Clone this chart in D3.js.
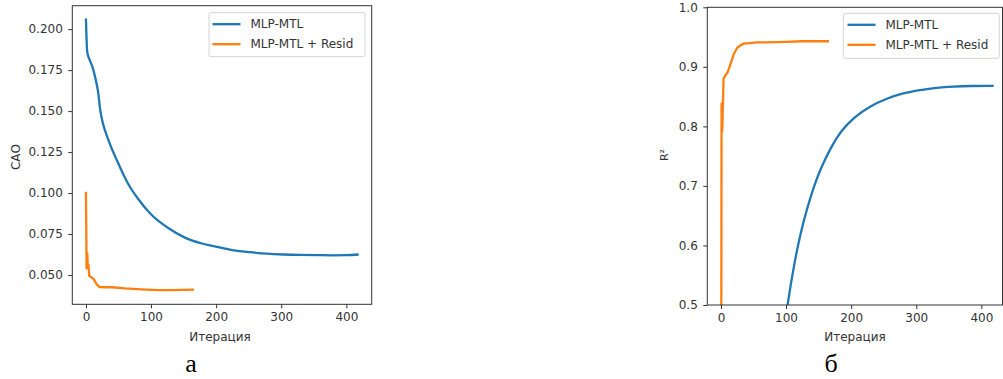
<!DOCTYPE html>
<html><head><meta charset="utf-8">
<script src="https://cdn.jsdelivr.net/npm/d3@7"></script>
<style>body{margin:0;background:#fff}svg{display:block}</style>
</head><body>
<svg id="c" width="1003" height="379"></svg>
<script>
// ---- data ----
const seriesNames = ["MLP-MTL", "MLP-MTL + Resid"];
const xTicks = [0, 100, 200, 300, 400];
const maeTicks = [0.05, 0.075, 0.1, 0.125, 0.15, 0.175, 0.2];
const r2Ticks = [0.5, 0.6, 0.7, 0.8, 0.9, 1.0];

const maeBaseIter = [0, 2, 6, 10, 14, 19, 22, 25, 29, 33, 40, 50, 65, 80, 101, 127, 152, 178, 198, 227, 252, 278, 303, 329, 354, 380, 400, 419];
const maeBaseVal  = [0.2065, 0.186, 0.181, 0.177, 0.1709, 0.1608, 0.1505, 0.1443, 0.1385, 0.1340, 0.1268, 0.1178, 0.1055, 0.0965, 0.0866, 0.0785, 0.0728, 0.0692, 0.0674, 0.0650, 0.0639, 0.0630, 0.0625, 0.0622, 0.0621, 0.0620, 0.0621, 0.0625];
const maeResIter = [0, 1, 2, 3, 4, 5, 8, 12, 16, 21, 30, 40, 60, 85, 110, 130, 150, 166];
const maeResVal  = [0.1008, 0.054, 0.0633, 0.0545, 0.056, 0.0495, 0.0487, 0.0475, 0.0445, 0.0426, 0.0425, 0.0425, 0.0418, 0.0412, 0.0408, 0.0408, 0.0409, 0.0411];

const r2BaseIter = [90, 102, 112, 122, 133, 143, 153, 169, 184, 204, 229, 255, 280, 306, 331, 357, 383, 419];
const r2BaseVal  = [0.405, 0.500, 0.566, 0.620, 0.665, 0.700, 0.729, 0.765, 0.792, 0.815, 0.834, 0.847, 0.856, 0.861, 0.865, 0.867, 0.868, 0.868];
const r2ResIter = [0, 1, 2, 4, 7, 10, 15, 20, 25, 30, 35, 45, 55, 70, 100, 125, 150, 166];
const r2ResVal  = [0.0, 0.838, 0.792, 0.880, 0.886, 0.890, 0.906, 0.922, 0.932, 0.936, 0.939, 0.940, 0.941, 0.941, 0.942, 0.943, 0.943, 0.943];

const colors = ["#1f77b4", "#ff7f0e"];
const zip = (a, b) => a.map((v, i) => [v, b[i]]);

const svg = d3.select("#c");
const FONT = "DejaVu Sans, sans-serif";
const TXT = "#333";

function panel(o) {
  const x = d3.scaleLinear().domain([-20.95, 438.95]).range([o.left, o.left + 299.4]);
  const y = d3.scaleLinear().domain(o.yDomain).range([o.bottom, o.top]);
  const g = svg.append("g");
  const clipId = "clip" + o.id;
  g.append("clipPath").attr("id", clipId).append("rect")
    .attr("x", o.left).attr("y", o.top).attr("width", o.frameRight - o.left).attr("height", o.bottom - o.top);

  // lines
  const lg = g.append("g").attr("clip-path", `url(#${clipId})`);
  o.series.forEach((s, i) => {
    lg.append("path").datum(s.data)
      .attr("fill", "none").attr("stroke", colors[i]).attr("stroke-width", 2.3)
      .attr("stroke-linejoin", "round").attr("stroke-linecap", "butt")
      .attr("d", d3.line().x(d => x(d[0])).y(d => y(d[1])).curve(s.curve));
  });

  // frame
  g.append("rect").attr("x", o.left).attr("y", o.top)
    .attr("width", o.frameRight - o.left).attr("height", o.bottom - o.top)
    .attr("fill", "none").attr("stroke", "#333").attr("stroke-width", 1);

  // axes
  const ax = g.append("g").attr("transform", `translate(0,${o.bottom})`)
    .call(d3.axisBottom(x).tickValues(xTicks).tickSize(4).tickPadding(4).tickFormat(d3.format("d")));
  const ay = g.append("g").attr("transform", `translate(${o.left},0)`)
    .call(d3.axisLeft(y).tickValues(o.yTicks).tickSize(4).tickPadding(5.5).tickFormat(d3.format(o.yFmt)));
  [ax, ay].forEach(a => {
    a.select(".domain").remove();
    a.selectAll("line").attr("stroke", "#333");
    a.selectAll("text").attr("fill", TXT).style("font-family", FONT).style("font-size", "12px");
  });

  // axis labels
  g.append("text").attr("x", (x(-20.95) + x(438.95)) / 2 - 2).attr("y", 341)
    .attr("text-anchor", "middle").attr("fill", TXT).style("font-family", FONT).style("font-size", "12px")
    .text("Итерация");
  g.append("text").attr("transform", `translate(${o.yLabelX},${o.yLabelY}) rotate(-90)`)
    .attr("text-anchor", "middle").attr("dominant-baseline", "central")
    .attr("fill", TXT).style("font-family", FONT).style("font-size", o.yLabelSize)
    .text(o.yLabel);

  // legend
  const L = o.legend;
  g.append("rect").attr("x", L.x).attr("y", L.y).attr("width", L.w).attr("height", L.h)
    .attr("rx", 2).attr("fill", "#fff").attr("fill-opacity", 0.85)
    .attr("stroke", "#d4d4d4").attr("stroke-width", 1);
  seriesNames.forEach((n, i) => {
    const yy = L.y + 11.5 + i * 20;
    g.append("line").attr("x1", L.lx).attr("x2", L.lx + 28).attr("y1", yy).attr("y2", yy)
      .attr("stroke", colors[i]).attr("stroke-width", 2.3);
    g.append("text").attr("x", L.lx + 38).attr("y", yy).attr("dominant-baseline", "central")
      .attr("fill", TXT).style("font-family", FONT).style("font-size", "12px").text(n);
  });

  // caption
  svg.append("text").attr("x", o.capX).attr("y", 372).attr("text-anchor", "middle")
    .attr("fill", "#000").style("font-family", "Liberation Serif, Times New Roman, serif")
    .style("font-size", "26px").text(o.caption);
}

panel({
  id: "a", left: 72.3, frameRight: 371.7, top: 5.7, bottom: 304.3,
  yDomain: [0.0321, 0.2143], yTicks: maeTicks, yFmt: ".3f",
  yLabel: "САО", yLabelX: 16, yLabelY: 157, yLabelSize: "12px",
  series: [
    { data: zip(maeBaseIter, maeBaseVal), curve: d3.curveMonotoneX },
    { data: zip(maeResIter, maeResVal), curve: d3.curveLinear }
  ],
  legend: { x: 209, y: 12.7, w: 156, h: 44, lx: 212.5 },
  caption: "а", capX: 191
});

panel({
  id: "b", left: 707.3, frameRight: 1002.5, top: 7.3, bottom: 305,
  yDomain: [0.5, 1.0], yTicks: r2Ticks, yFmt: ".1f",
  yLabel: "R²", yLabelX: 664, yLabelY: 155, yLabelSize: "11px",
  series: [
    { data: zip(r2BaseIter, r2BaseVal), curve: d3.curveBasis },
    { data: zip(r2ResIter, r2ResVal), curve: d3.curveLinear }
  ],
  legend: { x: 843.3, y: 13.3, w: 156, h: 45, lx: 847.5 },
  caption: "б", capX: 831
});
</script>
</body></html>
